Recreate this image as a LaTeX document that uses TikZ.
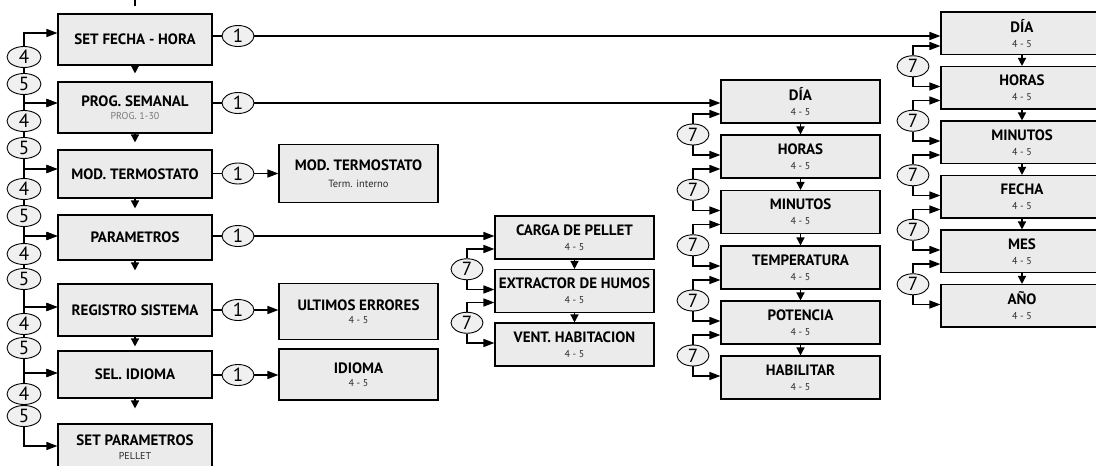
\documentclass[tikz,border=0pt]{standalone}
\usepackage{fontspec}
\setmainfont{PT Sans}
\usetikzlibrary{arrows.meta,shapes.geometric}
\definecolor{boxfill}{HTML}{EBEBEB}
\definecolor{circfill}{HTML}{F0F0F0}
\definecolor{subgray}{HTML}{7A7A7A}
\definecolor{subdark}{HTML}{2A2A2A}
\newcommand\sublbl[1]{{\mdseries\fontsize{10}{10}\selectfont\color{subdark}#1}}
\begin{document}
\begin{tikzpicture}[x=1pt,y=-1pt,
  box/.style={draw=black, line width=1.1pt, fill=boxfill, inner sep=0pt, align=center,
    font=\bfseries\fontsize{15}{13.5}\selectfont},
  lbox/.style={box, minimum width=154pt},
  mbox/.style={box, minimum width=159pt},
  rbox/.style={box, minimum width=162pt, minimum height=42.5pt},
  dbox/.style={box, minimum width=159pt, minimum height=43pt},
  num/.style={ellipse, draw=black, line width=0.9pt, fill=circfill, inner sep=0pt,
    minimum width=34pt, minimum height=21pt, font=\fontsize{19}{19}\selectfont},
  snum/.style={num, minimum width=32pt},
  ln/.style={line width=1.4pt},
  arr/.style={ln, -{Triangle[width=8pt,length=11pt]}},
  darr/.style={ln, -{Triangle[width=8pt,length=8pt]}},
]
\useasboundingbox (0,0) rectangle (1096,466);
\clip (0,0) rectangle (1096,466);

% ---------- left column
\node[lbox, minimum height=51pt] (L1) at (135,39.5) {SET FECHA - HORA};
\node[lbox, minimum height=51pt] (L2) at (135,107.5) {PROG. SEMANAL\\{\mdseries\fontsize{10}{10}\selectfont\color{subgray}PROG. 1-30}};
\node[lbox, minimum height=48pt] (L3) at (135,174) {MOD. TERMOSTATO};
\node[lbox, minimum height=45pt] (L4) at (135,237.5) {PARAMETROS};
\node[lbox, minimum height=52pt] (L5) at (135,310) {REGISTRO SISTEMA};
\node[lbox, minimum height=47pt] (L6) at (135,374.5) {SEL. IDIOMA};
\node[lbox, minimum height=46pt] (L7) at (135,447) {SET PARAMETROS\\\sublbl{PELLET}};

% ---------- second column
\node[mbox, minimum height=58pt] (M3) at (358.5,173.5) {MOD. TERMOSTATO\\[3pt]{\mdseries\fontsize{10.5}{10}\selectfont\color{subdark}Term. interno}};
\node[mbox, minimum height=56pt] (M5) at (358.5,311.5) {ULTIMOS ERRORES\\\sublbl{4 - 5}};
\node[mbox, minimum height=51pt] (M6) at (358.5,374.5) {IDIOMA\\\sublbl{4 - 5}};

% ---------- parametros column
\node[dbox] (C1) at (574.5,237.5) {CARGA DE PELLET\\[1.5pt]\sublbl{4 - 5}};
\node[dbox] (C2) at (574.5,291) {EXTRACTOR DE HUMOS\\[1.5pt]\sublbl{4 - 5}};
\node[dbox] (C3) at (574.5,344.5) {VENT. HABITACION\\[1.5pt]\sublbl{4 - 5}};

% ---------- prog. semanal column
\node[dbox] (D1) at (800.5,101.5) {DÍA\\[1.5pt]\sublbl{4 - 5}};
\node[dbox] (D2) at (800.5,156.5) {HORAS\\[1.5pt]\sublbl{4 - 5}};
\node[dbox] (D3) at (800.5,212) {MINUTOS\\[1.5pt]\sublbl{4 - 5}};
\node[dbox] (D4) at (800.5,267.5) {TEMPERATURA\\[1.5pt]\sublbl{4 - 5}};
\node[dbox] (D5) at (800.5,322.5) {POTENCIA\\[1.5pt]\sublbl{4 - 5}};
\node[dbox] (D6) at (800.5,377.5) {HABILITAR\\[1.5pt]\sublbl{4 - 5}};

% ---------- fecha-hora column
\node[rbox] (R1) at (1022,33.25) {DÍA\\[1.5pt]\sublbl{4 - 5}};
\node[rbox] (R2) at (1022,87.75) {HORAS\\[1.5pt]\sublbl{4 - 5}};
\node[rbox] (R3) at (1022,142.25) {MINUTOS\\[1.5pt]\sublbl{4 - 5}};
\node[rbox] (R4) at (1022,196.75) {FECHA\\[1.5pt]\sublbl{4 - 5}};
\node[rbox] (R5) at (1022,251.25) {MES\\[1.5pt]\sublbl{4 - 5}};
\node[rbox] (R6) at (1022,305.75) {AÑO\\[1.5pt]\sublbl{4 - 5}};

% ---------- top stub
\coordinate (stub) at (135,0);
\draw[ln, shorten >=7pt] (stub) -- (L1.north);

% ---------- down arrows
\draw[darr, shorten >=8pt] (L1.south) -- (L2.north);
\draw[darr, shorten >=7pt] (L2.south) -- (L3.north);
\draw[darr, shorten >=6pt] (L3.south) -- (L4.north);
\draw[darr, shorten >=13pt] (L4.south) -- (L5.north);
\draw[darr, shorten >=4pt] (L5.south) -- (L6.north);
\draw[darr, shorten >=15pt] (L6.south) -- (L7.north);
\foreach \a/\b in {C1/C2,C2/C3,D1/D2,D2/D3,D3/D4,D4/D5,D5/D6,R1/R2,R2/R3,R3/R4,R4/R5,R5/R6}
  \draw[darr] (\a.south) -- (\b.north);

% ---------- circles "1"
\node[snum] (o1) at (238,36) {1};
\node[snum] (o2) at (238,103) {1};
\node[snum] (o3) at (238,173.5) {1};
\node[snum] (o4) at (238,236) {1};
\node[snum] (o5) at (238,310) {1};
\node[snum] (o6) at (238,375) {1};
\foreach \o/\s/\t in {o1/L1/R1,o2/L2/D1,o3/L3/M3,o4/L4/C1,o5/L5/M5,o6/L6/M6}{
  \draw[ln] (\o.west -| \s.east) -- (\o.west);
  \draw[arr] (\o.east) -- (\o.east -| \t.west);
}

% ---------- left loop (4 / 5)
\foreach \i/\y in {1/33,2/103,3/169,4/236,5/307,6/373,7/446}
  \coordinate (yL\i) at (0,\y);
\foreach \i/\j/\ya/\yb in {1/2/57/84,2/3/121/148,3/4/189/216,4/5/254/279,5/6/324/348,6/7/394/416}{
  \node[num] (f\i) at (24,\ya) {4};
  \node[num] (g\i) at (24,\yb) {5};
  \draw[arr] (f\i.north) |- (L\i.west |- yL\i);
  \draw[ln] (f\i.south) -- (g\i.north);
  \draw[arr] (g\i.south) |- (L\j.west |- yL\j);
}

% ---------- parametros loops (7)
\foreach \i/\j/\yu/\yd/\yc in {1/2/249/289.5/269.25,2/3/302.5/343/322.75}{
  \coordinate (cu\i) at (0,\yu);
  \coordinate (cd\i) at (0,\yd);
  \node[snum] (p\i) at (467,\yc) {7};
  \draw[arr] (p\i.north) |- (C\i.west |- cu\i);
  \draw[arr] (p\i.south) |- (C\j.west |- cd\i);
}

% ---------- prog. semanal loops (7)
\foreach \i/\j/\yu/\yd/\yc in {1/2/114/155/134.5,2/3/169/210.5/189.75,3/4/224.5/266/245.25,4/5/280/321/300.5,5/6/335/376/355.5}{
  \coordinate (du\i) at (0,\yu);
  \coordinate (dd\i) at (0,\yd);
  \node[snum] (q\i) at (693,\yc) {7};
  \draw[arr] (q\i.north) |- (D\i.west |- du\i);
  \draw[arr] (q\i.south) |- (D\j.west |- dd\i);
}

% ---------- fecha-hora loops (7)
\foreach \i/\j/\yu/\yd/\yc in {1/2/46/86.5/66.25,2/3/100.5/141/120.75,3/4/155/195.5/175.25,4/5/209.5/250/229.75,5/6/264/304.5/284.25}{
  \coordinate (ru\i) at (0,\yu);
  \coordinate (rd\i) at (0,\yd);
  \node[snum] (s\i) at (913,\yc) {7};
  \draw[arr] (s\i.north) |- (R\i.west |- ru\i);
  \draw[arr] (s\i.south) |- (R\j.west |- rd\i);
}
\end{tikzpicture}
\end{document}
